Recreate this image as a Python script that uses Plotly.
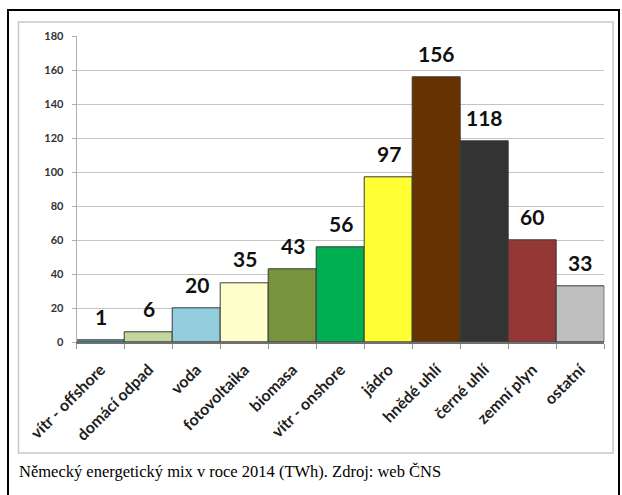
import plotly.graph_objects as go

categories = ["vítr - offshore", "domácí odpad", "voda", "fotovoltaika", "biomasa",
              "vítr - onshore", "jádro", "hnědé uhlí", "černé uhlí", "zemní plyn", "ostatní"]
values = [1, 6, 20, 35, 43, 56, 97, 156, 118, 60, 33]
colors = ["#4bacc6", "#c3d69b", "#93cddd", "#ffffcc", "#77933c", "#00b050",
          "#ffff33", "#663300", "#333333", "#953735", "#bfbfbf"]
y_ticks = [0, 20, 40, 60, 80, 100, 120, 140, 160, 180]
caption = "Německý energetický mix v roce 2014 (TWh). Zdroj: web ČNS"

W, H = 622, 495
# plot area in pixels
px_l, px_r, px_t, px_b = 76.7, 604.4, 36.3, 342.3

fig = go.Figure()
fig.add_trace(go.Bar(
    x=categories, y=values,
    marker=dict(color=colors, line=dict(color="#3a3a3a", width=1)),
    width=1.0,
    hoverinfo="x+y",
))

for c, v in zip(categories, values):
    fig.add_annotation(x=c, y=v, xref="x", yref="y", text=str(v), showarrow=False,
                       yanchor="middle", yshift=24,
                       font=dict(family="Lato", size=21, color="#111111", weight="bold"))

fig.add_annotation(x=17 / W, y=1 - 471 / H, xref="paper", yref="paper", text=caption,
                   showarrow=False, xanchor="left", yanchor="middle",
                   font=dict(family="Liberation Serif", size=16.5, color="#000000"))

shapes = [
    dict(type="rect", xref="paper", yref="paper",
         x0=8 / W, x1=619 / W, y0=1 - 500 / H, y1=1 - 10 / H,
         line=dict(color="#000000", width=2), layer="below"),
    dict(type="rect", xref="paper", yref="paper",
         x0=18.5 / W, x1=613 / W, y0=1 - 453 / H, y1=1 - 22 / H,
         line=dict(color="#c8c8c8", width=1.5), layer="below"),
]

fig.update_layout(
    width=W, height=H,
    margin=dict(l=0, r=0, t=0, b=0),
    paper_bgcolor="white", plot_bgcolor="white",
    showlegend=False, bargap=0,
    shapes=shapes,
    xaxis=dict(domain=[px_l / W, px_r / W], automargin=False,
               tickangle=-45, tickfont=dict(family="Lato", size=16, color="#1e1e1e", weight="bold"),
               ticklabelstandoff=10,
               showline=True, linecolor="#707070", linewidth=1.5,
               ticks="outside", tickson="boundaries", ticklen=5, tickcolor="#909090",
               showgrid=False, fixedrange=True),
    yaxis=dict(domain=[1 - px_b / H, 1 - px_t / H], automargin=False,
               range=[0, 180], tickvals=y_ticks,
               tickfont=dict(family="Lato", size=11, color="#333333", weight="bold"),
               ticklabelstandoff=6,
               showline=True, linecolor="#b0b0b0", linewidth=1,
               ticks="outside", ticklen=4, tickcolor="#b0b0b0",
               showgrid=True, gridcolor="#c4c4c4", gridwidth=1,
               zeroline=False, fixedrange=True),
)

fig.write_html("out.html")
